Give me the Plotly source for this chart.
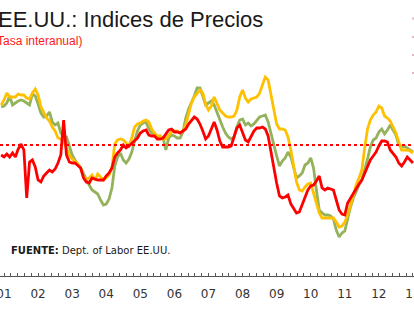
import pandas as pd
import plotly.graph_objects as go

# ---------------- data (monthly, Dec-2000 .. Jan-2013) ----------------
months = pd.date_range("2000-12-01", periods=146, freq="MS")

core = [1.50, 1.40, 1.55, 1.40, 1.60, 1.40, 1.80, 2.05, 1.75, -0.65,
        1.15, 1.25, 0.90, 0.25, 0.15, 0.45, 0.60, 0.75, 0.65, 0.80,
        1.10, 1.50, 3.25, 1.50, 1.15, 1.10, 1.10, 0.95, 0.85, 0.35,
        0.15, 0.10, 0.35, 0.30, 0.25, 0.25, 0.25, 0.45, 0.60, 0.85,
        1.40, 1.60, 1.75, 2.00, 1.85, 1.95, 2.10, 2.20, 2.35, 2.60,
        2.70, 2.75, 2.50, 2.45, 2.45, 2.30, 2.30, 2.35, 2.55, 2.75,
        2.80, 2.65, 2.65, 2.60, 2.70, 2.80, 3.05, 3.20, 3.40, 3.30,
        3.05, 2.70, 2.30, 2.45, 2.85, 3.15, 2.75, 2.20, 1.90, 1.90,
        1.90, 1.95, 2.40, 2.85, 3.00, 2.60, 2.25, 2.15, 2.45, 2.70,
        2.85, 2.85, 2.90, 2.80, 2.45, 1.60, 0.85, 0.10, -0.55, -0.65,
        -0.60, -0.50, -0.95, -1.15, -1.40, -1.35, -1.00, -0.60, -0.25, -0.05,
        0.00, 0.20, 0.45, -0.15, -0.25, -0.15, -0.20, -0.25, -0.75, -1.25,
        -1.45, -1.50, -0.90, -0.65, -0.40, -0.15, 0.05, 0.25, 0.60, 0.90,
        1.25, 1.45, 1.65, 1.95, 2.20, 2.20, 2.15, 1.75, 1.60, 1.40,
        1.10, 0.95, 1.15, 1.40, 1.25, 1.10]

general = [3.90, 3.95, 4.10, 4.45, 4.00, 4.10, 4.20, 4.25, 4.20, 4.10,
           4.00, 4.55, 4.45, 4.05, 3.60, 3.40, 3.45, 3.65, 3.15, 3.00,
           3.10, 2.60, 2.40, 2.40, 1.90, 1.50, 1.25, 1.00, 0.85, 0.55,
           0.30, 0.00, -0.25, -0.35, -0.45, -0.75, -1.00, -0.95, -0.70, -0.15,
           0.95, 1.40, 1.60, 1.25, 1.10, 1.30, 1.65, 2.20, 2.70, 3.00,
           3.10, 3.15, 2.80, 2.60, 2.50, 2.40, 2.45, 2.35, 1.75, 2.35,
           2.50, 2.45, 2.35, 2.35, 2.65, 3.35, 3.80, 4.10, 4.45, 4.85,
           4.85, 4.45, 4.00, 4.10, 4.20, 4.00, 3.60, 3.20, 2.90, 2.60,
           2.40, 2.30, 2.40, 2.90, 3.25, 3.30, 3.00, 3.10, 2.95, 3.05,
           3.20, 3.40, 3.45, 3.50, 3.15, 2.55, 2.05, 1.45, 0.95, 1.20,
           1.35, 1.65, 1.40, 0.90, 0.35, 0.45, 0.60, 1.00, 1.10, 1.35,
           0.85, -0.25, -1.25, -1.40, -1.50, -1.50, -1.55, -1.70, -2.25, -2.60,
           -2.40, -2.30, -1.65, -1.10, -0.65, -0.30, 0.00, 0.25, 0.75, 1.30,
           1.90, 2.25, 2.35, 2.65, 2.80, 2.55, 2.75, 3.00, 2.75, 2.50,
           2.00, 1.90, 1.95, 1.85, 1.75, 1.65]

producer = [4.00, 4.25, 4.60, 4.40, 4.40, 4.40, 4.55, 4.50, 4.50, 4.35,
            4.30, 4.60, 4.80, 4.50, 3.90, 3.60, 3.35, 3.20, 2.90, 2.70,
            2.35, 2.30, 2.20, 1.85, 1.50, 1.30, 1.20, 1.05, 0.85, 0.40,
            0.30, 0.35, 0.50, 0.25, 0.55, 0.40, 0.25, 0.35, 0.50, 0.85,
            2.05, 2.25, 2.30, 2.25, 2.10, 1.95, 2.35, 2.90, 3.05, 3.10,
            3.20, 3.25, 3.15, 2.80, 2.60, 2.45, 2.45, 2.30, 2.30, 2.45,
            2.65, 2.70, 2.70, 2.60, 2.70, 3.00, 3.60, 4.10, 4.40, 4.60,
            4.75, 4.60, 4.05, 3.75, 3.95, 4.40, 4.05, 3.75, 3.60, 3.45,
            3.40, 3.40, 3.45, 3.75, 4.40, 4.75, 4.35, 4.15, 4.30, 4.35,
            4.40, 4.60, 5.05, 5.40, 5.25, 4.50, 3.75, 3.05, 2.80, 2.80,
            2.75, 2.40, 1.75, 0.85, 0.15, -0.25, -0.30, -0.10, 0.05, 0.10,
            -0.45, -1.00, -1.40, -1.65, -1.65, -1.65, -1.65, -1.65, -1.85, -2.10,
            -2.05, -1.85, -1.50, -1.00, -0.40, 0.00, 0.35, 0.75, 1.85, 2.80,
            3.25, 3.50, 3.65, 3.95, 3.85, 3.45, 3.35, 3.20, 2.90, 2.60,
            2.15, 1.75, 1.75, 1.75, 1.70, 1.60]

target = 2.0
years = list(range(2001, 2014))
year_labels = ["01", "02", "03", "04", "05", "06", "07",
               "08", "09", "10", "11", "12", "13"]

title_text = "EE.UU.: Indices de Precios"
subtitle_text = "(Tasa interanual)"
source_text = "<b>FUENTE:</b> Dept. of Labor EE.UU."

# ---------------- figure ----------------
W, H = 414, 311
T, B = 40, 35
px_year = 34.08
x0_px = 4.0

tpos = [d.year + (d.month - 1) / 12 for d in months]

fig = go.Figure()
fig.add_trace(go.Scatter(x=tpos, y=general, mode="lines",
                         line=dict(color="#94B25C", width=2.8), hoverinfo="skip"))
fig.add_trace(go.Scatter(x=tpos, y=producer, mode="lines",
                         line=dict(color="#FFC000", width=2.8), hoverinfo="skip"))
fig.add_trace(go.Scatter(x=tpos, y=core, mode="lines",
                         line=dict(color="#FF0000", width=2.8), hoverinfo="skip"))

fig.add_hline(y=target, line=dict(color="#FF0000", width=2, dash="dot"))

xr = [2001 - x0_px / px_year, 2001 + (W - x0_px) / px_year]
plot_h = H - T - B
y_bottom_px = H - B
# value scale: 20 px per unit, value 0 at pixel 185
yr = [(185 - y_bottom_px) / 20, (185 - T) / 20]

fig.update_layout(
    width=W, height=H,
    margin=dict(l=0, r=0, t=T, b=B, autoexpand=False),
    paper_bgcolor="white", plot_bgcolor="white",
    showlegend=False,
    xaxis=dict(range=xr, tickvals=years, ticktext=year_labels,
               automargin=False,
               ticks="inside", ticklen=3, tickcolor="#555", tickwidth=1,
               showline=True, linecolor="#555", linewidth=1,
               showgrid=False, zeroline=False,
               ticklabeloverflow="allow", ticklabelstandoff=7,
               tickfont=dict(family="DejaVu Sans", size=12, color="#333"),
               minor=dict(dtick=0.2, tick0=2001, ticks="inside", ticklen=3,
                          tickcolor="#555", showgrid=False)),
    xaxis2=dict(range=xr, overlaying="x", anchor="y", side="bottom",
                automargin=False,
                tickvals=years, ticks="outside", ticklen=3, tickcolor="#555",
                showticklabels=False, showline=False, showgrid=False, zeroline=False),
    yaxis=dict(range=yr, visible=False, showgrid=False, zeroline=False,
               automargin=False),
)

def py(p):
    return (y_bottom_px - p) / plot_h

fig.add_annotation(text=title_text, xref="paper", yref="paper",
                   x=-4 / W, y=py(5), xanchor="left", yanchor="top",
                   showarrow=False,
                   font=dict(family="Liberation Sans, Arial", size=22, color="#1a1a1a"))
fig.add_annotation(text=subtitle_text, xref="paper", yref="paper",
                   x=-9.5 / W, y=py(32), xanchor="left", yanchor="top",
                   showarrow=False,
                   font=dict(family="Liberation Sans, Arial", size=12, color="#FF1A1A"))
fig.add_annotation(text=source_text, xref="paper", yref="paper",
                   x=9 / W, y=py(250), xanchor="left", yanchor="middle",
                   showarrow=False,
                   font=dict(family="DejaVu Sans", size=10, color="#1a1a1a"))

# cut-off legend keys at the right edge
for p in (18.5, 37, 55, 73):
    fig.add_shape(type="rect", xref="paper", yref="paper",
                  x0=412 / W, x1=414 / W, y0=py(p + 1), y1=py(p - 1),
                  line=dict(width=0), fillcolor="#E3B9BE")

fig.write_html("out.html")
